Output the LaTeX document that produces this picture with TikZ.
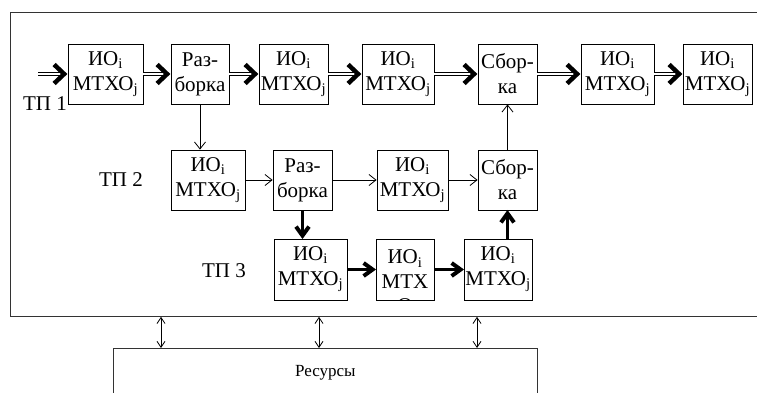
\documentclass[tikz,border=0pt]{standalone}
\usepackage{fontspec}
\setmainfont{Liberation Serif}
\usetikzlibrary{arrows.meta,positioning,decorations.markings}

\begin{document}
\begin{tikzpicture}[x=1pt, y=-1pt,
          blk/.style={draw, line width=0.8pt, minimum height=60pt, inner sep=1pt,
                      align=center, font=\rmfamily\fontsize{21}{25}\selectfont},
          lbl/.style={font=\rmfamily\fontsize{21}{25}\selectfont},
          thinarr/.style={line width=0.8pt, -{Straight Barb[length=7pt, width=11pt]}},
          dblline/.style={line width=0.7pt, double, double distance=2.2pt, shorten >=6pt},
          bighead/.style={postaction={decorate}, decoration={markings,
                      mark=at position -3.5pt with {\draw[line width=4.5pt, line join=miter]
                        (-10pt,9.5pt) -- (0pt,0pt) -- (-10pt,-9.5pt);}}},
          thickarr/.style={line width=3.5pt, shorten >=4pt, postaction={decorate}, decoration={markings,
                      mark=at position -3pt with {\draw[line width=4pt, line join=miter, shorten >=0pt]
                        (-9pt,6.5pt) -- (0pt,0pt) -- (-9pt,-6.5pt);}}},
          both/.style={line width=0.8pt, {Straight Barb[length=6pt, width=8pt]}-{Straight Barb[length=6pt, width=8pt]}}
        ]
          \useasboundingbox (0,0) rectangle (757,392);
          % outer frame and resources
          \node[draw=black!80, line width=0.8pt, minimum width=800pt, minimum height=304pt,
                inner sep=0pt, anchor=north west] (frame) at (10,12) {};
          \node[draw=black!80, line width=0.8pt, font=\rmfamily\fontsize{17}{20}\selectfont,
                minimum width=424pt, inner xsep=0pt, inner ysep=4pt, text height=24pt,
                text depth=40pt, anchor=north west] (res) at (113,348) {Ресурсы};
          % TP 1
          \node[blk, minimum width=75pt] (b11) at (105.5,74) {ИО\textsubscript{i}\\МТХО\textsubscript{j}};
          \node[blk, minimum width=58pt] (r1)  at (200,74)   {Раз-\\борка};
          \node[blk, minimum width=69pt] (b13) at (293.5,74) {ИО\textsubscript{i}\\МТХО\textsubscript{j}};
          \node[blk, minimum width=72pt] (b14) at (398,74)   {ИО\textsubscript{i}\\МТХО\textsubscript{j}};
          \node[blk, minimum width=59pt] (s1)  at (507.5,74) {Сбор-\\ка};
          \node[blk, minimum width=73pt] (b16) at (617.5,74) {ИО\textsubscript{i}\\МТХО\textsubscript{j}};
          \node[blk, minimum width=69pt] (b17) at (717.5,74) {ИО\textsubscript{i}\\МТХО\textsubscript{j}};
          % TP 2
          \node[blk, minimum width=74pt] (b21) at (208,180)   {ИО\textsubscript{i}\\МТХО\textsubscript{j}};
          \node[blk, minimum width=59pt] (r2)  at (302.5,180) {Раз-\\борка};
          \node[blk, minimum width=71pt] (b23) at (412.5,180) {ИО\textsubscript{i}\\МТХО\textsubscript{j}};
          \node[blk, minimum width=59pt] (s2)  at (507.5,180) {Сбор-\\ка};
          % TP 3
          \node[blk, minimum width=73pt, minimum height=61pt] (b31) at (310.5,269.5) {ИО\textsubscript{i}\\МТХО\textsubscript{j}};
          \node[blk, minimum width=58pt, minimum height=61pt] (b32) at (405,269.5)   {ИО\textsubscript{i}\\МТХ};
          \node[blk, minimum width=68pt, minimum height=61pt] (b33) at (498,269.5)   {ИО\textsubscript{i}\\МТХО\textsubscript{j}};
          \begin{scope}
            \clip (b32.north west) rectangle (b32.south east);
            \node[lbl, anchor=base] (b32o) at ([yshift=-43pt]b32.center) {О};
          \end{scope}
          \node[lbl] (tp1) at (45,104)  {ТП 1};
          \node[lbl] (tp2) at (121,180) {ТП 2};
          \node[lbl] (tp3) at (224,271) {ТП 3};
          % connectors
          \coordinate (in) at (38,74);
          \foreach \a/\b in {in/b11, b11/r1, r1/b13, b13/b14, b14/s1, s1/b16, b16/b17} {
            \draw[dblline] (\a) -- (\b);
            \path[bighead] (\a) -- (\b);
          }
          \draw[thinarr] (r1.south) -- (r1.south |- b21.north);
          \draw[thinarr] (b21) -- (r2);
          \draw[thinarr] (r2) -- (b23);
          \draw[thinarr] (b23) -- (s2);
          \draw[thinarr] (s2) -- (s1);
          \draw[thickarr] (r2.south) -- (r2.south |- b31.north);
          \draw[thickarr] (b31) -- (b32);
          \draw[thickarr] (b32) -- (b33);
          \draw[thickarr] (s2.south |- b33.north) -- (s2.south);
          \coordinate (c1) at (161,0);
          \coordinate (c2) at (319,0);
          \coordinate (c3) at (477,0);
          \draw[both] (c1 |- frame.south) -- (c1 |- res.north);
          \draw[both] (c2 |- frame.south) -- (c2 |- res.north);
          \draw[both] (c3 |- frame.south) -- (c3 |- res.north);
        \end{tikzpicture}
\end{document}
